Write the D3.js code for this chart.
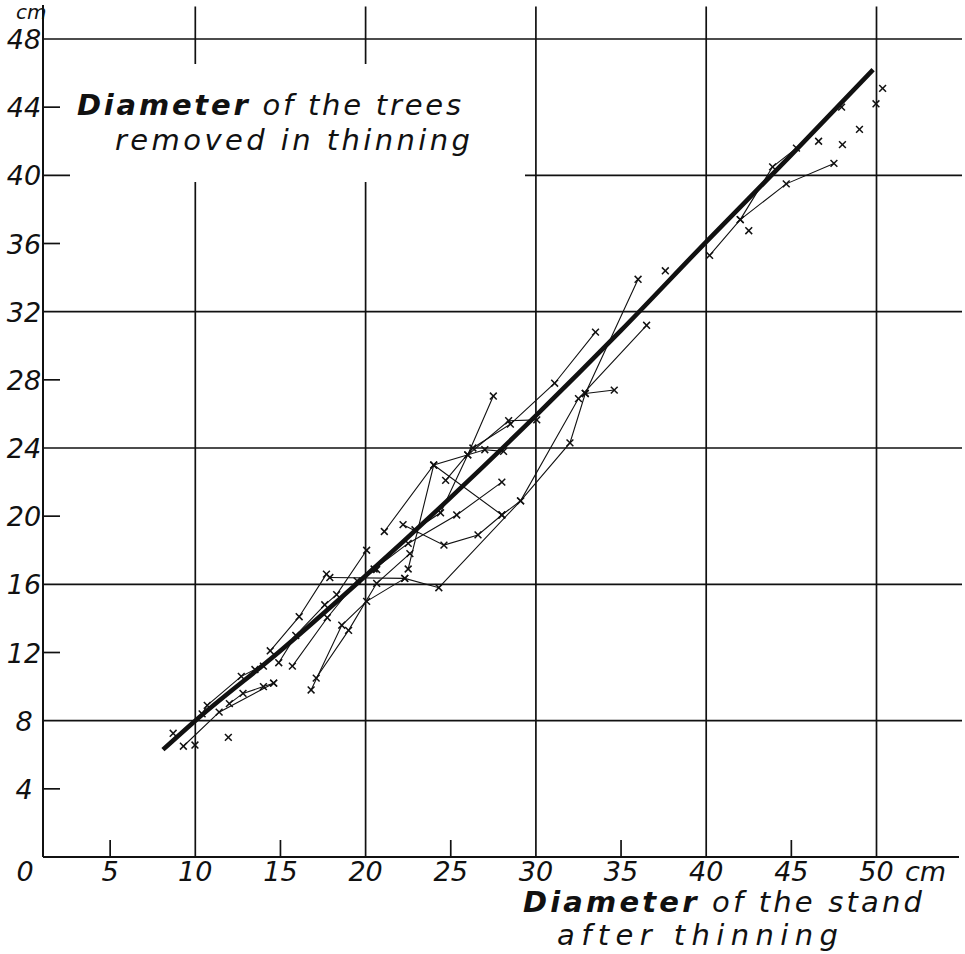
<!DOCTYPE html>
<html><head><meta charset="utf-8">
<script src="https://cdn.jsdelivr.net/npm/d3@7"></script>
<style>
html,body{margin:0;padding:0;background:#fff;}
svg{display:block;}
text{font-family:"DejaVu Sans",sans-serif;font-style:italic;fill:#111;}
</style></head>
<body>
<svg id="chart" width="965" height="954"></svg>
<script>
// ---------- data ----------
const xTickValues = [0,5,10,15,20,25,30,35,40,45,50];
const xTickLabels = ["0","5","10","15","20","25","30","35","40","45","50"];
const yTickValues = [4,8,12,16,20,24,28,32,36,40,44,48];
const yTickLabels = ["4","8","12","16","20","24","28","32","36","40","44","48"];
const xGrid = [10,20,30,40,50];
const yGrid = [8,16,24,32,40,48];
const xMinor = [5,15,25,35,45];
const yMinor = [4,12,20,28,36,44];

// heavy mean line
const meanLine = [[8.1,6.3],[10,8.0],[15,12.1],[20,16.5],[25,21.1],[30,25.9],[35,30.9],[40,36.1],[45,41.2],[49.8,46.2]];

// individual stands (successive measurements)
const stand01 = [[9.3,6.5],[11.4,8.5],[14.6,10.2]];
const stand02 = [[10.4,8.4],[10.7,8.9],[12.7,10.6],[13.5,11.0],[14.0,11.2]];
const stand03 = [[12.0,9.0],[12.8,9.6],[14.0,10.0],[14.6,10.2]];
const stand04 = [[14.4,12.1],[16.1,14.1],[17.7,16.6]];
const stand05 = [[14.9,11.4],[15.9,13.0],[17.6,14.8],[18.3,15.4],[20.06,18.0]];
const stand06 = [[15.7,11.2],[17.75,14.04],[19.5,16.2],[20.65,16.87]];
const stand07 = [[16.8,9.8],[18.6,13.6],[20.06,15.0],[22.3,16.35]];
const stand08 = [[17.1,10.5],[19.0,13.3],[20.65,16.06],[22.6,17.8]];
const stand09 = [[17.9,16.4],[22.3,16.35],[24.3,15.8],[29.1,20.9],[32.5,26.9],[36.5,31.2]];
const stand10 = [[22.2,19.5],[24.6,18.3],[26.6,18.9],[28.0,20.07],[29.1,20.9],[32.0,24.3],[32.9,27.2],[36.0,33.9]];
const stand11 = [[32.9,27.2],[34.6,27.4]];
const stand12 = [[24.7,22.1],[26.3,24.0],[28.5,25.4],[31.1,27.8],[33.5,30.8]];
const stand13 = [[26.0,23.6],[28.4,25.6],[30.05,25.65]];
const stand14 = [[22.9,19.2],[24.4,20.2],[26.0,23.6],[27.5,27.05]];
const stand15 = [[22.5,16.9],[24.0,23.0],[28.0,20.07]];
const stand16 = [[20.5,16.9],[22.5,18.4],[25.35,20.07],[28.0,22.0]];
const stand17 = [[21.1,19.1],[24.0,23.0],[27.0,23.9],[28.1,23.8]];
const stand18 = [[40.2,35.3],[42.0,37.4],[44.7,39.5],[47.5,40.7]];
const stand19 = [[42.0,37.4],[43.9,40.5],[45.3,41.6]];
const stands = [stand01,stand02,stand03,stand04,stand05,stand06,stand07,stand08,stand09,stand10,
                stand11,stand12,stand13,stand14,stand15,stand16,stand17,stand18,stand19];

// isolated observations
const singles = [[8.7,7.26],[9.98,6.57],[11.94,7.02],[37.6,34.4],[42.5,36.75],[46.6,42.0],
                 [48.0,41.8],[49.0,42.7],[47.95,44.0],[50.36,45.1],[49.97,44.2]];

// ---------- drawing ----------
const svg = d3.select("#chart");
const x = d3.scaleLinear().domain([0,55]).range([25, 25+55*17.03]);
const y = d3.scaleLinear().domain([0,48]).range([857, 39]);
const axisX = 43;           // pixel position of the vertical axis line
const rightEdge = 962;
const ink = "#111";

const g = svg.append("g");

// grid
g.selectAll(".gx").data(xGrid).join("line")
  .attr("x1", d=>x(d)).attr("x2", d=>x(d))
  .attr("y1", y(0)).attr("y2", y(49.9))
  .attr("stroke", ink).attr("stroke-width", 1.7);
g.selectAll(".gy").data(yGrid).join("line")
  .attr("x1", axisX).attr("x2", rightEdge)
  .attr("y1", d=>y(d)).attr("y2", d=>y(d))
  .attr("stroke", ink).attr("stroke-width", 1.7);

// minor ticks
g.selectAll(".mx").data(xMinor).join("line")
  .attr("x1", d=>x(d)).attr("x2", d=>x(d))
  .attr("y1", y(0)).attr("y2", y(0)-17)
  .attr("stroke", ink).attr("stroke-width", 1.7);
g.selectAll(".my").data(yMinor).join("line")
  .attr("x1", axisX).attr("x2", axisX+17)
  .attr("y1", d=>y(d)).attr("y2", d=>y(d))
  .attr("stroke", ink).attr("stroke-width", 1.7);

// axes lines
g.append("line").attr("x1", axisX).attr("x2", rightEdge-3).attr("y1", y(0)).attr("y2", y(0))
  .attr("stroke", ink).attr("stroke-width", 2);
g.append("line").attr("x1", axisX).attr("x2", axisX).attr("y1", y(0)).attr("y2", 5)
  .attr("stroke", ink).attr("stroke-width", 2);

// white box behind the title
g.append("rect").attr("x", 70).attr("y", 64).attr("width", 455).attr("height", 118).attr("fill", "#fff");

// tick labels
g.selectAll(".xl").data(xTickValues).join("text")
  .attr("x", d=>x(d)).attr("y", 881).attr("text-anchor","middle")
  .attr("font-size", 27).text((d,i)=>xTickLabels[i]);
g.append("text").attr("x", 905).attr("y", 881).attr("font-size", 27).text("cm");
g.selectAll(".yl").data(yTickValues).join("text")
  .attr("x", 24).attr("y", d=>y(d)+10).attr("text-anchor","middle")
  .attr("font-size", 27).text((d,i)=>yTickLabels[i]);
g.append("text").attr("x", 16).attr("y", 19).attr("font-size", 20).text("cm");

// titles
const t1 = g.append("text").attr("x", 77).attr("y", 115).attr("font-size", 29)
  .attr("textLength", 384).attr("lengthAdjust","spacing");
t1.append("tspan").attr("font-weight","bold").text("Diameter");
t1.append("tspan").text(" of the trees");
g.append("text").attr("x", 115).attr("y", 150).attr("font-size", 29)
  .attr("textLength", 355).attr("lengthAdjust","spacing").text("removed in thinning");

const t2 = g.append("text").attr("x", 523).attr("y", 912).attr("font-size", 29)
  .attr("textLength", 399).attr("lengthAdjust","spacing");
t2.append("tspan").attr("font-weight","bold").text("Diameter");
t2.append("tspan").text(" of the stand");
g.append("text").attr("x", 557).attr("y", 945).attr("font-size", 29)
  .attr("textLength", 281).attr("lengthAdjust","spacing").text("after thinning");

// stands
const line = d3.line().x(d=>x(d[0])).y(d=>y(d[1]));
g.selectAll(".stand").data(stands).join("path")
  .attr("d", line).attr("fill","none").attr("stroke", ink).attr("stroke-width", 1.1);

// markers
const allPts = stands.flat().concat(singles);
const m = 3.4;
const mk = g.selectAll(".mk").data(allPts).join("g")
  .attr("transform", d=>`translate(${x(d[0])},${y(d[1])})`);
mk.append("line").attr("x1",-m).attr("y1",-m).attr("x2",m).attr("y2",m).attr("stroke",ink).attr("stroke-width",1.5);
mk.append("line").attr("x1",-m).attr("y1",m).attr("x2",m).attr("y2",-m).attr("stroke",ink).attr("stroke-width",1.5);

// heavy mean line
g.append("path").datum(meanLine)
  .attr("d", d3.line().x(d=>x(d[0])).y(d=>y(d[1])).curve(d3.curveMonotoneX))
  .attr("fill","none").attr("stroke", ink).attr("stroke-width", 4.6).attr("stroke-linecap","butt");
</script>
</body></html>
